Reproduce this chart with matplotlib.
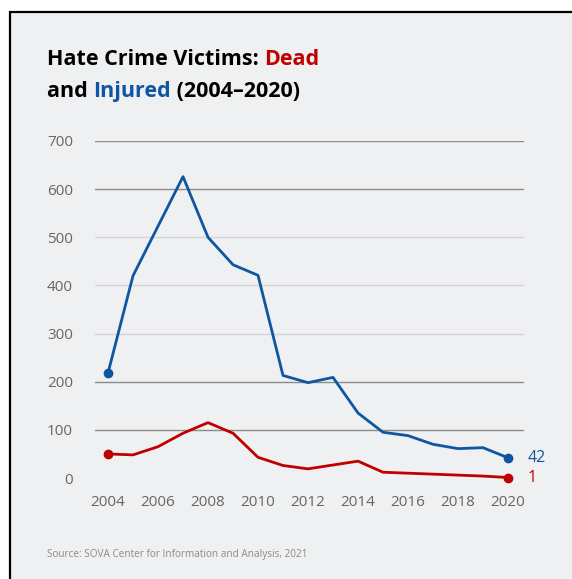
import matplotlib.pyplot as plt
from matplotlib.patches import Rectangle

plt.rcParams['font.family'] = ['Open Sans', 'DejaVu Sans']

# data
years = list(range(2004, 2021))
injured = [218, 420, 523, 626, 500, 443, 421, 213, 198, 209, 135, 95, 88, 70, 61, 63, 42]
dead = [50, 48, 65, 93, 115, 93, 43, 26, 19, 27, 35, 12, 10, 8, 6, 4, 1]
yticks = [0, 100, 200, 300, 400, 500, 600, 700]
xticks = [2004, 2006, 2008, 2010, 2012, 2014, 2016, 2018, 2020]

BLUE = '#0f56a0'
RED = '#c00000'
BG = '#eff0f2'
W, H = 572, 579

fig = plt.figure(figsize=(W / 100, H / 100), dpi=100)
fig.patch.set_facecolor('white')

# grey panel with black border on top / left
panel = Rectangle((10 / W, -0.05), 1.1, (H - 12) / H + 0.05, transform=fig.transFigure,
                  facecolor=BG, edgecolor='black', linewidth=1.6, zorder=-5)
fig.patches.append(panel)

ax = fig.add_axes([95 / W, (H - 478) / H, (524 - 95) / W, (478 - 141) / H])
ax.set_facecolor('none')
ax.set_xlim(2003.48, 2020.64)
ax.set_ylim(0, 700)
for s in ax.spines.values():
    s.set_visible(False)

# gridlines (0 has none)
grid_cols = {100: '#8c8c8c', 200: '#8c8c8c', 300: '#d4d4d6', 400: '#d4d4d6',
             500: '#d4d4d6', 600: '#8c8c8c', 700: '#8c8c8c'}
for v, c in grid_cols.items():
    ax.axhline(v, color=c, linewidth=1.0, zorder=1)

ax.plot(years, injured, color=BLUE, linewidth=2.0, zorder=3, clip_on=False)
ax.plot(years, dead, color=RED, linewidth=2.0, zorder=3, clip_on=False)
ax.plot([years[0], years[-1]], [injured[0], injured[-1]], 'o', color=BLUE,
        markersize=6, zorder=4, clip_on=False)
ax.plot([years[0], years[-1]], [dead[0], dead[-1]], 'o', color=RED,
        markersize=6, zorder=4, clip_on=False)

ax.annotate(str(injured[-1]), (years[-1], injured[-1]), xytext=(14, 0),
            textcoords='offset points', color=BLUE, fontsize=11.5, va='center')
ax.annotate(str(dead[-1]), (years[-1], dead[-1]), xytext=(14, 0),
            textcoords='offset points', color=RED, fontsize=11.5, va='center')

ax.set_yticks(yticks)
ax.set_xticks(xticks)
ax.tick_params(length=0, labelsize=11, labelcolor='#666666')
ax.tick_params(axis='y', pad=16)
ax.tick_params(axis='x', pad=12)

# title with coloured words
fig.canvas.draw()
r = fig.canvas.get_renderer()


def seq_text(parts, x, y):
    for txt, col in parts:
        t = fig.text(x, y, txt, color=col, fontsize=15.5, fontweight='bold',
                     transform=None, va='baseline')
        bb = t.get_window_extent(renderer=r)
        x = bb.x1


seq_text([('Hate Crime Victims: ', 'black'), ('Dead', RED)], 47, H - 65)
seq_text([('and ', 'black'), ('Injured', BLUE), (' (2004\u20132020)', 'black')], 47, H - 97)

fig.text(47 / W, (H - 557) / H, 'Source: SOVA Center for Information and Analysis, 2021',
         fontsize=7.2, color='#8a8a8a', va='baseline')

fig.savefig('out.png', dpi=100, facecolor=fig.get_facecolor())
